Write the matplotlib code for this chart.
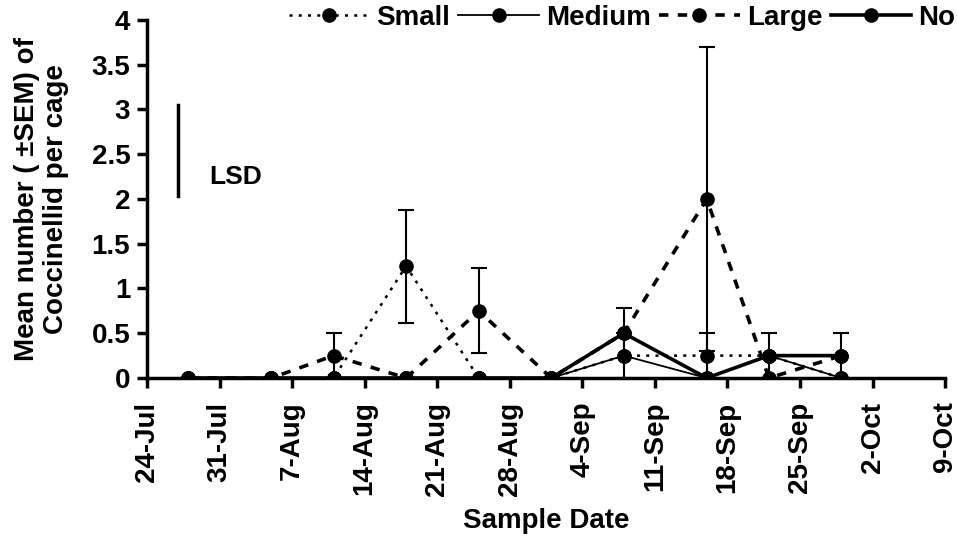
import numpy as np
import matplotlib
matplotlib.use("Agg")
import matplotlib.pyplot as plt
from datetime import date, timedelta

plt.rcParams['font.family'] = ['Liberation Sans', 'DejaVu Sans']
plt.rcParams['font.weight'] = 'bold'

dates = ['2007-07-28', '2007-08-05', '2007-08-11', '2007-08-18', '2007-08-25',
         '2007-09-01', '2007-09-08', '2007-09-16', '2007-09-22', '2007-09-29']
small = [0, 0, 0, 1.25, 0, 0, 0.25, 0.25, 0.25, 0]
small_err = [0, 0, 0, 0.63, 0, 0, 0, 0.25, 0, 0]
medium = [0, 0, 0, 0, 0, 0, 0.25, 0, 0.25, 0]
medium_err = [0, 0, 0, 0, 0, 0, 0.25, 0, 0.25, 0]
large = [0, 0, 0.25, 0, 0.75, 0, 0.5, 2.0, 0, 0.25]
large_err = [0, 0, 0.25, 0, 0.475, 0, 0, 1.7, 0, 0]
no = [0, 0, 0, 0, 0, 0, 0.5, 0, 0.25, 0.25]
no_err = [0, 0, 0, 0, 0, 0, 0.28, 0, 0, 0.25]

x = np.array([date.fromisoformat(d) for d in dates], dtype=object)

fig = plt.figure(figsize=(9.57, 5.4), dpi=100)
ax = fig.add_axes([0.1536, 0.30, 0.834, 0.663])

series = [
    ('Small', small, small_err, dict(ls=(0, (1.2, 2.5)), lw=1.8)),
    ('Medium', medium, medium_err, dict(ls='-', lw=1.3)),
    ('Large', large, large_err, dict(ls=(0, (2.6, 2.6)), lw=2.6)),
    ('No', no, no_err, dict(ls='-', lw=2.6)),
]

for name, y, e, st in series:
    ax.plot(x, y, color='black', marker='o', markersize=9.5, label=name,
            zorder=3, **st)
    y = np.array(y)
    e = np.array(e)
    m = e > 0
    if m.any():
        ax.errorbar(x[m], y[m], yerr=e[m], fmt='none', ecolor='black',
                    elinewidth=1.5, capsize=5.5, capthick=1.5, zorder=2)

# LSD bar
lsd_x = date(2007, 7, 27)
ax.plot([lsd_x, lsd_x], [2.03, 3.05], color='black', lw=2.5)
ax.text(date(2007, 7, 30), 2.25, 'LSD', fontsize=19, fontweight='bold',
        va='center', ha='left')

ax.set_xlim(date(2007, 7, 24), date(2007, 10, 9))
ax.set_ylim(0, 4)
ticks = [date(2007, 7, 24) + timedelta(days=7 * i) for i in range(12)]
ax.set_xticks(ticks)
ax.set_xticklabels([f"{d.day}-{d:%b}" for d in ticks], rotation=90,
                   fontsize=20, fontweight='bold')
ax.set_yticks(np.arange(0, 4.01, 0.5))
ax.set_yticklabels(['0', '0.5', '1', '1.5', '2', '2.5', '3', '3.5', '4'],
                   fontsize=20, fontweight='bold')

for s in ['top', 'right']:
    ax.spines[s].set_visible(False)
for s in ['left', 'bottom']:
    ax.spines[s].set_linewidth(2.5)
ax.tick_params(width=2.5, length=7, direction='out')
ax.tick_params(axis='x', pad=10)
ax.tick_params(axis='y', pad=5)

ax.set_xlabel('Sample Date', fontsize=20, fontweight='bold', labelpad=9)
ax.set_ylabel('Mean number ( \u00b1SEM) of\nCoccinellid per cage',
              fontsize=20, fontweight='bold', labelpad=16, linespacing=1.15)

fig.legend(loc='upper right', bbox_to_anchor=(955 / 957, 1 - 5 / 540), ncol=4,
           frameon=False, fontsize=20, handlelength=2.9, columnspacing=0.3,
           handletextpad=0.25, borderpad=0, borderaxespad=0)

fig.savefig('out.png', dpi=100)
